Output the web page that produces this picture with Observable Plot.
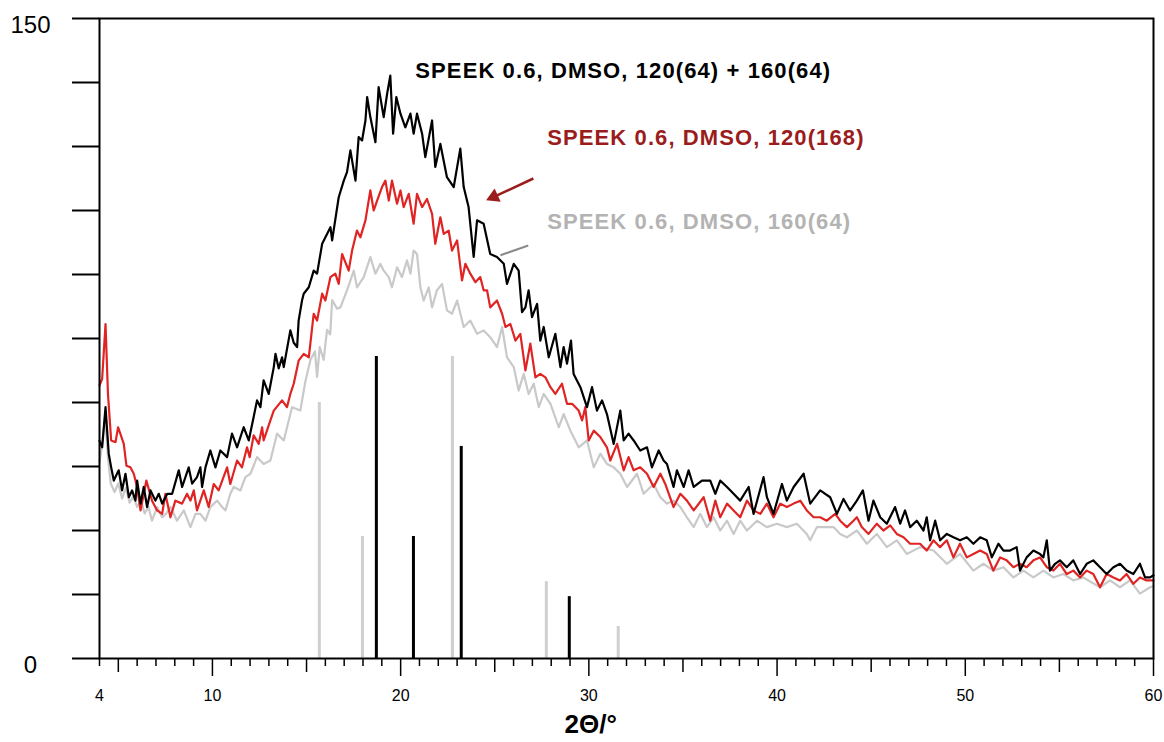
<!DOCTYPE html>
<html><head><meta charset="utf-8">
<script src="https://cdn.jsdelivr.net/npm/d3@7"></script>
<script src="https://cdn.jsdelivr.net/npm/@observablehq/plot@0.6"></script>
<style>body{margin:0;background:#fff} svg{display:block}</style>
</head><body><div id="chart"></div>
<script>
// 2θ (°) vs intensity
const blackSeries = [[4.0,51],[4.14,49.5],[4.32,58.9],[4.49,48],[4.62,44.8],[4.76,41.7],[5.02,44.1],[5.2,39.4],[5.38,43.3],[5.56,37.8],[5.73,39.4],[5.91,37],[6.0,41.7],[6.18,36.3],[6.35,40.2],[6.53,35.5],[6.71,39.4],[6.97,37],[7.15,38.6],[7.33,36.3],[7.6,38.6],[7.86,38.6],[8.21,44.1],[8.39,40.2],[8.74,44.8],[8.92,41],[9.18,42.5],[9.36,44.8],[9.45,40.2],[9.63,44.8],[9.89,48.75],[10.16,44.8],[10.42,48.75],[10.78,47.2],[11.04,52.7],[11.31,49.5],[11.66,54.2],[11.93,51.1],[12.19,56.6],[12.37,60.5],[12.55,58.9],[12.72,65.2],[12.99,62],[13.26,68.3],[13.35,71.4],[13.52,68],[13.7,70.6],[13.79,68.3],[14.14,76.9],[14.32,74],[14.5,73],[14.58,79.2],[14.76,83.9],[14.85,85.5],[15.12,87],[15.38,90.9],[15.56,90.2],[15.83,97.2],[16.09,99.5],[16.27,101.1],[16.36,98],[16.71,108.1],[16.98,112],[17.15,114],[17.33,119.1],[17.6,112],[17.77,122.2],[17.95,121.4],[18.13,126.1],[18.22,131.6],[18.39,126.9],[18.66,121],[18.83,133.9],[19.1,126.9],[19.28,132.3],[19.45,136.6],[19.6,123],[19.77,131.6],[19.99,127.7],[20.25,124.5],[20.52,127.7],[20.69,123],[20.87,127.7],[21.14,123],[21.31,117.5],[21.67,126.1],[21.84,115.2],[22.11,120.6],[22.46,112.8],[22.82,110.5],[23.17,119.5],[23.35,110.5],[23.61,105.8],[23.88,94.1],[24.06,102.7],[24.41,101.9],[24.76,94.8],[25.12,94.1],[25.48,92.5],[25.65,87.8],[26.01,92.5],[26.27,90.9],[26.45,81.2],[26.63,82.3],[26.8,86.3],[26.98,80],[27.25,83.1],[27.42,74.5],[27.6,77.7],[27.87,70.6],[28.22,76.1],[28.49,68.3],[28.66,73],[28.84,69.1],[29.05,74.5],[29.19,66.7],[29.55,63.6],[29.9,58.9],[30.17,63.6],[30.43,58.1],[30.7,60.5],[30.96,57.3],[31.32,50.3],[31.67,58.1],[31.85,51.1],[32.11,52.7],[32.38,51.1],[32.73,48.75],[33.09,49.5],[33.35,44.8],[33.71,48.75],[33.97,46.4],[34.15,45.6],[34.5,40.2],[34.68,44.1],[35.04,40.2],[35.3,44.1],[35.57,40.2],[36.01,41.7],[36.45,41.7],[36.72,38.6],[36.98,41.7],[37.34,40.2],[37.69,38.6],[38.04,37],[38.49,40.2],[38.75,33.9],[39.28,42.5],[39.46,37.8],[39.81,33.9],[40.26,40.9],[40.52,37],[40.88,40.2],[41.41,43.3],[41.76,36.3],[42.29,39.4],[42.82,37.8],[43.18,33.9],[43.53,37.4],[43.88,34.7],[44.24,37],[44.56,39.4],[44.86,32.3],[45.12,37],[45.48,33.1],[45.83,31.6],[46.27,35.5],[46.54,31.6],[46.8,34.7],[47.07,30.8],[47.42,32.3],[47.78,30],[47.95,33.1],[48.13,27.7],[48.4,32.3],[48.66,27.7],[49.02,29.2],[49.37,28.4],[49.72,27.7],[50.08,28.4],[50.43,26.9],[50.79,28.4],[51.14,27.7],[51.41,23.7],[51.76,26.9],[52.03,25.3],[52.38,25.3],[52.73,26.1],[52.91,20.6],[53.26,23.7],[53.62,25.3],[53.97,24.5],[54.15,23.7],[54.33,27.7],[54.5,20.6],[54.77,22.2],[55.03,23],[55.39,21.4],[55.74,23],[56.1,19.8],[56.45,22.2],[56.8,23],[57.16,21.4],[57.51,19.8],[57.87,21.4],[58.22,22.2],[58.57,20.6],[58.93,19.8],[59.28,22.2],[59.55,19],[59.82,19],[60,19.5]];

const redSeries = [[4.0,64],[4.14,65.5],[4.32,78.4],[4.45,62],[4.62,51.1],[4.85,50.7],[4.99,54.2],[5.29,50.3],[5.43,45.2],[5.64,44.8],[5.82,43.3],[6.0,40.2],[6.18,34.7],[6.49,41.7],[6.79,37],[7.06,34.7],[7.33,33.9],[7.5,38.6],[7.77,33.1],[8.03,37],[8.39,36.3],[8.65,38.6],[8.83,37],[9.01,39.4],[9.18,34.7],[9.54,39.4],[9.8,35.5],[10.07,40.9],[10.33,39.4],[10.78,44.8],[10.95,40.9],[11.31,46.4],[11.57,44.8],[11.84,49.5],[11.98,47.2],[12.19,52.3],[12.46,50.3],[12.64,54.2],[12.72,51.1],[13.08,55.8],[13.26,58.1],[13.7,60.5],[13.96,58.9],[14.14,62],[14.32,64.4],[14.58,69.8],[14.85,71.4],[15.12,70.6],[15.38,80.8],[15.56,79.2],[15.83,85.5],[16.0,83.9],[16.27,89.4],[16.53,90.2],[16.71,87.8],[16.89,94.8],[17.24,90.9],[17.42,95.6],[17.68,100.3],[17.86,98.7],[18.13,102.7],[18.39,109.7],[18.57,105],[18.75,107.3],[19.01,110.5],[19.19,112],[19.37,107.3],[19.54,112],[19.81,106.6],[19.99,109.7],[20.16,105.8],[20.43,108.9],[20.69,101.9],[20.87,108.9],[21.14,105.8],[21.4,107.7],[21.67,104.2],[21.84,97.2],[22.11,103.4],[22.29,99.5],[22.55,100.3],[22.73,95.6],[23.0,98],[23.26,88.6],[23.44,92.5],[23.7,90.2],[23.97,88.2],[24.23,89.4],[24.41,86.3],[24.59,86.3],[24.76,82.3],[25.12,83.9],[25.39,80.8],[25.57,77.7],[25.83,78.4],[26.1,74.5],[26.36,76.1],[26.63,67.5],[26.89,73.8],[27.16,65.9],[27.42,66.7],[27.69,65.9],[27.96,63.6],[28.22,62],[28.57,64.4],[28.84,59.7],[29.11,59.7],[29.46,58.1],[29.64,55.8],[29.81,58.9],[29.99,51.1],[30.26,53.4],[30.61,51.9],[30.96,49.5],[31.14,46.4],[31.5,50.3],[31.85,44.1],[32.11,47.2],[32.38,44.1],[32.73,44.8],[33.09,43.3],[33.44,40.2],[33.8,43.3],[34.06,40.9],[34.5,35.5],[34.86,38.6],[35.21,37],[35.57,34.7],[36.1,37.8],[36.45,32.3],[36.72,37],[36.98,33.1],[37.34,36.3],[37.69,34.7],[38.04,33.1],[38.4,37],[38.75,34.7],[39.11,33.9],[39.46,36.3],[39.81,33.1],[40.17,36.3],[40.52,35.5],[40.88,36.3],[41.23,37],[41.58,34.7],[41.94,33.1],[42.29,33.1],[42.64,32.3],[43.09,33.9],[43.35,32.3],[43.71,30.8],[44.06,32.3],[44.24,33.1],[44.5,30.8],[44.86,29.2],[45.3,31.6],[45.65,30],[46.01,31.2],[46.36,29.2],[46.72,28.4],[47.07,26.9],[47.6,26.9],[47.95,25.3],[48.31,27.7],[48.66,26.1],[49.02,27.7],[49.37,23.7],[49.72,26.9],[50.08,23.7],[50.43,24.5],[50.79,25.3],[51.14,24.5],[51.49,20.6],[51.85,23.7],[52.2,23],[52.56,21.4],[52.91,22.2],[53.26,21.4],[53.62,23],[53.97,23.7],[54.33,21.4],[54.68,20.6],[55.03,22.2],[55.39,19.8],[55.74,20.6],[56.1,19],[56.45,20.6],[56.8,19.8],[57.16,16.7],[57.51,19.8],[57.87,19],[58.22,18.3],[58.57,19.8],[58.93,17.5],[59.28,19],[59.64,18.3],[60,18.3]];

const graySeries = [[4.0,46],[4.14,50],[4.3,57],[4.45,47],[4.6,41],[4.8,39],[5.0,41],[5.2,37.5],[5.4,40],[5.6,36.5],[5.8,38],[6.0,35.5],[6.2,37],[6.4,34],[6.6,35.5],[6.79,32.3],[7.06,35.5],[7.33,33.1],[7.55,34],[7.77,35.5],[8.12,32.3],[8.48,34.7],[8.83,30.8],[9.1,33.9],[9.36,33.9],[9.63,32.3],[9.89,35.5],[10.25,37],[10.51,35.5],[10.69,34.7],[10.95,38.6],[11.13,40.2],[11.49,39.4],[11.75,42.5],[12.02,43.3],[12.37,47.2],[12.72,45.6],[13.08,46.4],[13.43,52.7],[13.79,51.1],[14.23,58.9],[14.67,58.1],[14.94,65],[15.21,70],[15.45,72],[15.56,66],[15.7,73],[15.91,70],[16.09,77],[16.26,76],[16.36,84],[16.62,82],[16.8,82.3],[17.15,86.3],[17.51,90.9],[17.68,87],[18.04,89.4],[18.39,94.1],[18.66,90.2],[18.92,92.5],[19.1,90.9],[19.37,89.4],[19.54,87],[19.81,91.7],[20.07,89.4],[20.34,93.3],[20.52,90.2],[20.69,95.6],[20.87,94.8],[21.05,87],[21.22,83.9],[21.49,87],[21.67,82.3],[21.93,86.3],[22.2,87.8],[22.46,81.6],[22.73,80.8],[23.0,83.9],[23.35,77.7],[23.7,79.2],[24.06,76.1],[24.41,76.9],[24.76,75.3],[25.12,73],[25.39,77.7],[25.65,70.6],[26.01,68.3],[26.27,62.8],[26.54,66.7],[26.8,62],[27.07,64.4],[27.34,58.9],[27.6,62],[27.96,59.7],[28.4,54.2],[28.66,57.3],[29.02,53.4],[29.46,49.5],[29.9,51.1],[30.26,44.8],[30.61,48],[30.96,45.6],[31.32,44.8],[31.67,43.3],[32.03,40.2],[32.56,43.3],[32.91,38.6],[33.44,40.9],[33.8,37.8],[34.15,36.3],[34.5,37],[34.86,35.5],[35.21,33.1],[35.57,30.8],[35.92,33.9],[36.27,30.8],[36.63,33.1],[36.98,30],[37.34,32.3],[37.69,29.2],[38.04,32.3],[38.4,30],[38.93,32.3],[39.46,30.8],[39.99,31.6],[40.52,30.8],[41.05,31.6],[41.58,29.2],[41.76,27.7],[42.12,30.8],[42.29,30.8],[43.0,30.8],[43.35,29.2],[43.71,28.4],[44.24,30],[44.77,26.9],[45.3,29.2],[45.83,26.1],[46.36,27.7],[46.89,24.5],[47.6,26.1],[48.31,25.3],[49.02,22.2],[49.72,24.5],[50.43,20.6],[50.96,22.2],[51.49,20.6],[52.03,21.4],[52.56,19],[53.09,20.6],[53.62,19],[54.15,20.6],[54.68,19],[55.21,19.8],[55.74,18.3],[56.27,19],[57.16,16.7],[57.69,18.3],[58.22,16.7],[58.75,18.3],[59.28,15.2],[59.82,16.7],[60,17]];

// reference reflections (position, height)
const graySticks = [[15.68,60],[17.97,28.6],[22.75,70.8],[27.74,18],[31.56,7.5]];
const blackSticks = [[18.71,70.8],[20.68,28.6],[23.22,49.7],[28.96,14.5]];

// axes
const yTickValues = [0,15,30,45,60,75,90,105,120,135,150];
const yLabelValues = [0,150];
const xMinorTicks = [4,6,7,8,9,11,12,13,14,16,17,18,19,21,22,23,24,26,27,28,29,31,32,33,34,36,37,38,39,41,42,43,44,46,47,48,49,51,52,53,54,56,57,58,59];
const xMidTicks = [5,15,25,35,45,55];
const xMajorTicks = [10,20,30,40,50,60];
const xLabelTicks = [4,10,20,30,40,50,60];
const xTitle = "2Θ/°";
const xTitlePos = 30.1;

// annotations
const seriesLabels = [
  {t: 20.78, v: 137.8, text: "SPEEK 0.6, DMSO, 120(64) + 160(64)", color: "#000000"},
  {t: 27.79, v: 122.1, text: "SPEEK 0.6, DMSO, 120(168)", color: "#9b1c1c"},
  {t: 27.79, v: 102.2, text: "SPEEK 0.6, DMSO, 160(64)", color: "#b3b3b3"}
];
const redArrow = [{t1: 27.05, v1: 112.5, t2: 24.95, v2: 108.2}];
const grayPointer = [{t1: 26.78, v1: 96.8, t2: 25.3, v2: 94.5}];

const rows = (pairs) => pairs.map(([t, v]) => ({t, v}));

const svg = Plot.plot({
  width: 1164, height: 742,
  marginLeft: 99, marginRight: 11, marginTop: 18, marginBottom: 84,
  x: {domain: [4, 60]},
  y: {domain: [0, 150]},
  style: {fontFamily: "'Liberation Sans', Arial, Helvetica, sans-serif", background: "#fff", color: "#000"},
  marks: [
    Plot.axisY({ticks: yTickValues, tickSize: 27, tickFormat: () => "", strokeWidth: 2, label: null}),
    Plot.axisX({ticks: xMinorTicks, tickSize: 8, tickFormat: () => "", strokeWidth: 1.5, label: null}),
    Plot.axisX({ticks: xMidTicks, tickSize: 14, tickFormat: () => "", strokeWidth: 1.5, label: null}),
    Plot.axisX({ticks: xMajorTicks, tickSize: 18, tickFormat: () => "", strokeWidth: 1.5, label: null}),
    Plot.text(xLabelTicks, {x: d => d, text: d => String(d), frameAnchor: "bottom", dy: 42, fontSize: 16}),
    Plot.ruleX(rows(graySticks), {x: "t", y1: 0, y2: "v", stroke: "#cfcfcf", strokeWidth: 3}),
    Plot.ruleX(rows(blackSticks), {x: "t", y1: 0, y2: "v", stroke: "#000", strokeWidth: 3}),
    Plot.line(rows(graySeries), {x: "t", y: "v", stroke: "#c9c9c9", strokeWidth: 2.2}),
    Plot.line(rows(redSeries), {x: "t", y: "v", stroke: "#e02424", strokeWidth: 2.2}),
    Plot.line(rows(blackSeries), {x: "t", y: "v", stroke: "#000", strokeWidth: 2.2}),
    Plot.frame({stroke: "#000", strokeWidth: 2}),
    Plot.text(yLabelValues, {y: d => d, text: d => String(d), frameAnchor: "left", dx: -69, dy: 7, textAnchor: "middle", fontSize: 24}),
    Plot.text([xTitle], {x: () => xTitlePos, text: d => d, frameAnchor: "bottom", dy: 74, fontSize: 26, fontWeight: "bold"}),
    Plot.text(seriesLabels, {x: "t", y: "v", text: "text", fill: "color", textAnchor: "start", fontSize: 22, fontWeight: "bold"}),
    Plot.link(redArrow, {x1: "t1", y1: "v1", x2: "t2", y2: "v2", stroke: "#9b1c1c", strokeWidth: 2.5}),
    Plot.dot(redArrow, {x: "t2", y: "v2", symbol: "triangle2", r: 7, fill: "#9b1c1c", stroke: "none", rotate: -114.5}),
    Plot.link(grayPointer, {x1: "t1", y1: "v1", x2: "t2", y2: "v2", stroke: "#8a8a8a", strokeWidth: 2})
  ]
});
d3.select(svg).selectAll("text").filter(function () { return this.textContent.startsWith("SPEEK"); })
  .attr("letter-spacing", "1.1px");
document.getElementById("chart").appendChild(svg);
</script>
</body></html>
